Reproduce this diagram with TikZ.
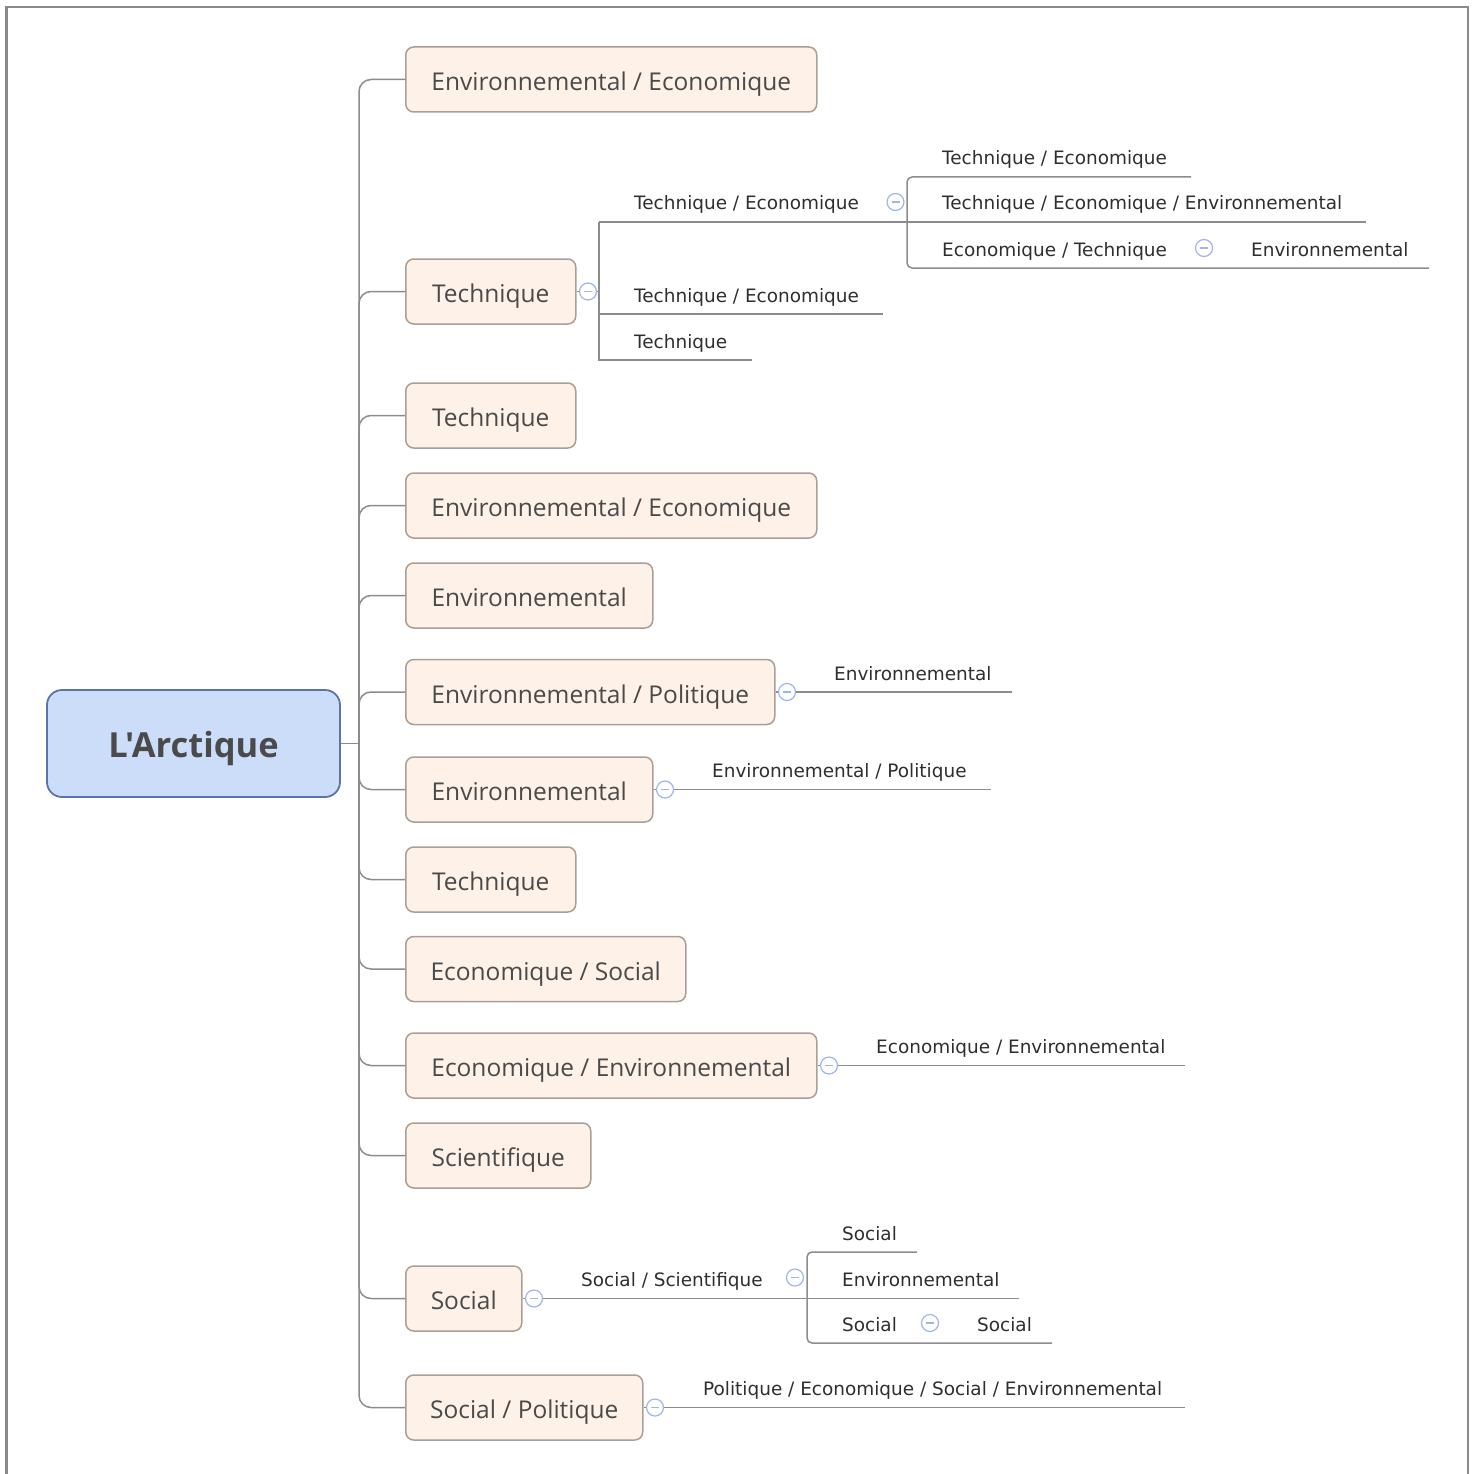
\documentclass[tikz,border=0pt]{standalone}
\usepackage{fontspec}
\setmainfont{Open Sans}
\newfontfamily\smallf{DejaVu Sans}
\newfontfamily\rootf{Open Sans}
\definecolor{linec}{HTML}{8C8C8C}
\definecolor{boxline}{HTML}{A89F96}
\definecolor{boxfill}{HTML}{FDF1E8}
\definecolor{nodetext}{HTML}{4A4A4A}
\definecolor{subtext}{HTML}{2E2E2E}
\definecolor{togc}{HTML}{9DB4EC}
\definecolor{rootfill}{HTML}{CCDDFA}
\definecolor{rootline}{HTML}{5B73A6}
\definecolor{framec}{HTML}{8A8A8A}
\tikzset{
  conn/.style={draw=linec, line width=1.5pt},
  box/.style={draw=boxline, fill=boxfill, rounded corners=8pt, line width=1.5pt,
    minimum height=65pt, inner sep=0pt, anchor=west, text=nodetext,
    text height=22pt, text depth=0pt,
    font=\fontsize{24.5}{28}\selectfont},
  rootbox/.style={draw=rootline, fill=rootfill, rounded corners=15pt, line width=1.8pt,
    minimum width=293pt, minimum height=107pt, inner sep=0pt, text=nodetext,
    text height=27pt, text depth=0pt,
    font=\rootf\bfseries\fontsize{34.5}{38}\selectfont},
  sub/.style={anchor=base west, inner sep=0pt, text=subtext,
    font=\smallf\fontsize{18.45}{22}\selectfont},
  tog/.style={circle, draw=togc, fill=white, line width=1.2pt, minimum size=17pt, inner sep=0pt,
    path picture={\draw[togc, line width=1.2pt]
      ([xshift=-4pt]path picture bounding box.center) --
      ([xshift=4pt]path picture bounding box.center);}},
}
\begin{document}
\begin{tikzpicture}[x=1pt,y=-1pt]
\useasboundingbox (0,0) rectangle (1477,1474);
% frame
\draw[framec, line width=2.5pt] (6.5,1490) -- (6.5,7) -- (1468,7) -- (1468,1490);

% root
\node[rootbox] (root) at (193.5,743.5) {L'Arctique};
\coordinate (sp) at (359,743.5);
\draw[conn] (root.east) -- (sp);

% level 1
\node[box, minimum width=411pt] (n1) at (405,79.5) {Environnemental / Economique};
\node[box, minimum width=170pt] (n2) at (405,291.5) {Technique};
\node[box, minimum width=170pt] (n3) at (405,415.5) {Technique};
\node[box, minimum width=411pt] (n4) at (405,505.5) {Environnemental / Economique};
\node[box, minimum width=247pt] (n5) at (405,595.5) {Environnemental};
\node[box, minimum width=369pt] (n6) at (405,692) {Environnemental / Politique};
\node[box, minimum width=247pt] (n7) at (405,789.5) {Environnemental};
\node[box, minimum width=170pt] (n8) at (405,879.5) {Technique};
\node[box, minimum width=280pt] (n9) at (405,969) {Economique / Social};
\node[box, minimum width=411pt] (n10) at (405,1065.5) {Economique / Environnemental};
\node[box, minimum width=185pt] (n11) at (405,1155.5) {Scientifique};
\node[box, minimum width=116pt] (n12) at (405,1298.5) {Social};
\node[box, minimum width=237pt] (n13) at (405,1407.5) {Social / Politique};

\foreach \n in {n1,n2,n3,n4,n5,n6,n7,n8,n9,n10,n11,n12,n13}
  \draw[conn, rounded corners=12pt] (sp) |- (\n.west);

% ---- Technique (n2) subtree
\node[tog] (t2) at (588,291.5) {};
\draw[conn] (n2.east) -- (t2.west);
\coordinate (j2) at (599,291.5);
\coordinate (b2t) at (599,222);
\coordinate (b2b) at (599,360);
\coordinate (e21) at (1366,222);
\coordinate (e22) at (883,314);
\coordinate (b2m) at (599,314);
\coordinate (e23) at (752,360);
\draw[conn] (t2.east) -- (j2);
\draw[conn] (b2t) -- (b2b) -- (e23);
\draw[conn] (b2t) -- (e21);
\draw[conn] (b2m) -- (e22);
\node[sub] (s21) at (634,210) {Technique / Economique};
\node[sub] (s22) at (634,302) {Technique / Economique};
\node[sub] (s23) at (634,348) {Technique};
\node[tog] (t21) at (895.5,202) {};

\coordinate (k1) at (907,177);
\coordinate (k2) at (907,268);
\coordinate (e31) at (1191,177);
\coordinate (e33) at (1429,268);
\draw[conn, rounded corners=5pt] (e31) -- (k1) -- (k2) -- (e33);
\node[sub] (s31) at (942,165) {Technique / Economique};
\node[sub] (s32) at (942,210) {Technique / Economique / Environnemental};
\node[sub] (s33) at (942,256) {Economique / Technique};
\node[tog] (t33) at (1204,248) {};
\node[sub] (s34) at (1251,256) {Environnemental};

% ---- n6
\node[tog] (t6) at (787,692) {};
\draw[conn] (n6.east) -- (t6.west);
\coordinate (e6) at (1012,692);
\draw[conn] (t6.east) -- (e6);
\node[sub] (s6) at (834,680) {Environnemental};

% ---- n7
\node[tog] (t7) at (665,789.5) {};
\draw[conn] (n7.east) -- (t7.west);
\coordinate (e7) at (991,789.5);
\draw[conn] (t7.east) -- (e7);
\node[sub] (s7) at (712,777) {Environnemental / Politique};

% ---- n10
\node[tog] (t10) at (829,1065.5) {};
\draw[conn] (n10.east) -- (t10.west);
\coordinate (e10) at (1185,1065.5);
\draw[conn] (t10.east) -- (e10);
\node[sub] (s10) at (876,1053) {Economique / Environnemental};

% ---- n12
\node[tog] (t12) at (534,1298.5) {};
\draw[conn] (n12.east) -- (t12.west);
\coordinate (e12) at (1019,1298.5);
\draw[conn] (t12.east) -- (e12);
\node[sub] (s12) at (581,1286) {Social / Scientifique};
\node[tog] (t121) at (795,1277.5) {};
\coordinate (m1) at (807,1252);
\coordinate (m2) at (807,1343);
\coordinate (f1) at (917,1252);
\coordinate (f3) at (1052,1343);
\draw[conn, rounded corners=5pt] (f1) -- (m1) -- (m2) -- (f3);
\node[sub] (s121) at (842,1240) {Social};
\node[sub] (s122) at (842,1286) {Environnemental};
\node[sub] (s123) at (842,1331) {Social};
\node[tog] (t123) at (930,1323) {};
\node[sub] (s124) at (977,1331) {Social};

% ---- n13
\node[tog] (t13) at (655,1407.5) {};
\draw[conn] (n13.east) -- (t13.west);
\coordinate (e13) at (1185,1407.5);
\draw[conn] (t13.east) -- (e13);
\node[sub] (s13) at (703,1395) {Politique / Economique / Social / Environnemental};
\end{tikzpicture}
\end{document}
